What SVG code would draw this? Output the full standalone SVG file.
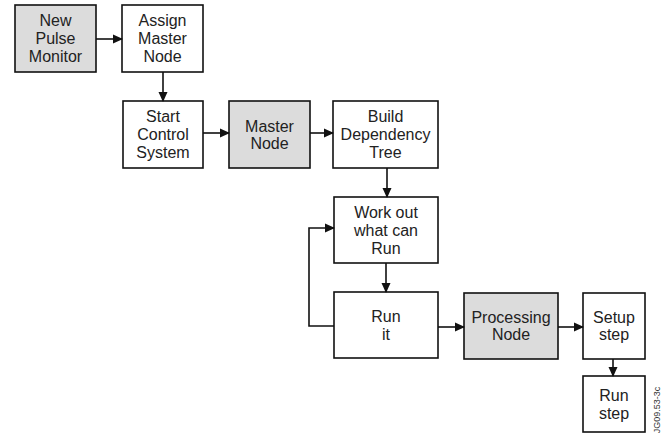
<svg xmlns="http://www.w3.org/2000/svg" width="669" height="445" viewBox="0 0 669 445">
<defs>
<marker id="ah" markerWidth="10" markerHeight="10" refX="9" refY="5" orient="auto" markerUnits="userSpaceOnUse">
<path d="M0,0.5 L10,5 L0,9.5 Z" fill="#111"/>
</marker>
<style>
.box{fill:#fff;stroke:#111;stroke-width:1.6}
.grey{fill:#dcdcdc}
.t{font-family:"Liberation Sans",Arial,sans-serif;font-size:16px;fill:#222;text-anchor:middle}
.c{fill:none;stroke:#111;stroke-width:1.6;marker-end:url(#ah)}
</style>
</defs>
<rect width="669" height="445" fill="#fff"/>
<g id="new-pulse-monitor"><rect class="box grey" x="15" y="5" width="81" height="67"/><text class="t" x="55.5" y="26">New</text><text class="t" x="55.5" y="44">Pulse</text><text class="t" x="55.5" y="62">Monitor</text></g>
<g id="assign-master-node"><rect class="box" x="122" y="5" width="81" height="67"/><text class="t" x="162.5" y="26">Assign</text><text class="t" x="162.5" y="44">Master</text><text class="t" x="162.5" y="62">Node</text></g>
<g id="start-control-system"><rect class="box" x="123" y="101" width="80" height="67"/><text class="t" x="163" y="122">Start</text><text class="t" x="163" y="140">Control</text><text class="t" x="163" y="158">System</text></g>
<g id="master-node"><rect class="box grey" x="229" y="101" width="81" height="67"/><text class="t" x="269.5" y="131.5">Master</text><text class="t" x="269.5" y="149">Node</text></g>
<g id="build-dependency-tree"><rect class="box" x="333" y="101" width="105" height="67"/><text class="t" x="385.5" y="122">Build</text><text class="t" x="385.5" y="140">Dependency</text><text class="t" x="385.5" y="158">Tree</text></g>
<g id="work-out"><rect class="box" x="334" y="197" width="104" height="66"/><text class="t" x="386" y="218">Work out</text><text class="t" x="386" y="236">what can</text><text class="t" x="386" y="254">Run</text></g>
<g id="run-it"><rect class="box" x="334" y="292" width="104" height="66"/><text class="t" x="386" y="322">Run</text><text class="t" x="386" y="340">it</text></g>
<g id="processing-node"><rect class="box grey" x="464" y="293" width="94" height="66"/><text class="t" x="511" y="322.5">Processing</text><text class="t" x="511" y="340">Node</text></g>
<g id="setup-step"><rect class="box" x="583" y="293" width="62" height="66"/><text class="t" x="614" y="322.5">Setup</text><text class="t" x="614" y="340">step</text></g>
<g id="run-step"><rect class="box" x="583" y="376" width="62" height="56"/><text class="t" x="614" y="401">Run</text><text class="t" x="614" y="419">step</text></g>
<g id="connectors">
<path class="c" d="M96,39 H122"/>
<path class="c" d="M163,72 V101"/>
<path class="c" d="M203,133 H229"/>
<path class="c" d="M310,133 H333"/>
<path class="c" d="M387,168 V197"/>
<path class="c" d="M386,263 V292"/>
<path class="c" d="M334,326 H309 V228 H334"/>
<path class="c" d="M438,327 H464"/>
<path class="c" d="M558,327 H583"/>
<path class="c" d="M613,359 V376"/>
</g>
<text x="660" y="410" transform="rotate(-90 660 410)" font-family="Liberation Sans,Arial,sans-serif" font-size="9" fill="#333" text-anchor="middle">JG09.53-3c</text>
</svg>
